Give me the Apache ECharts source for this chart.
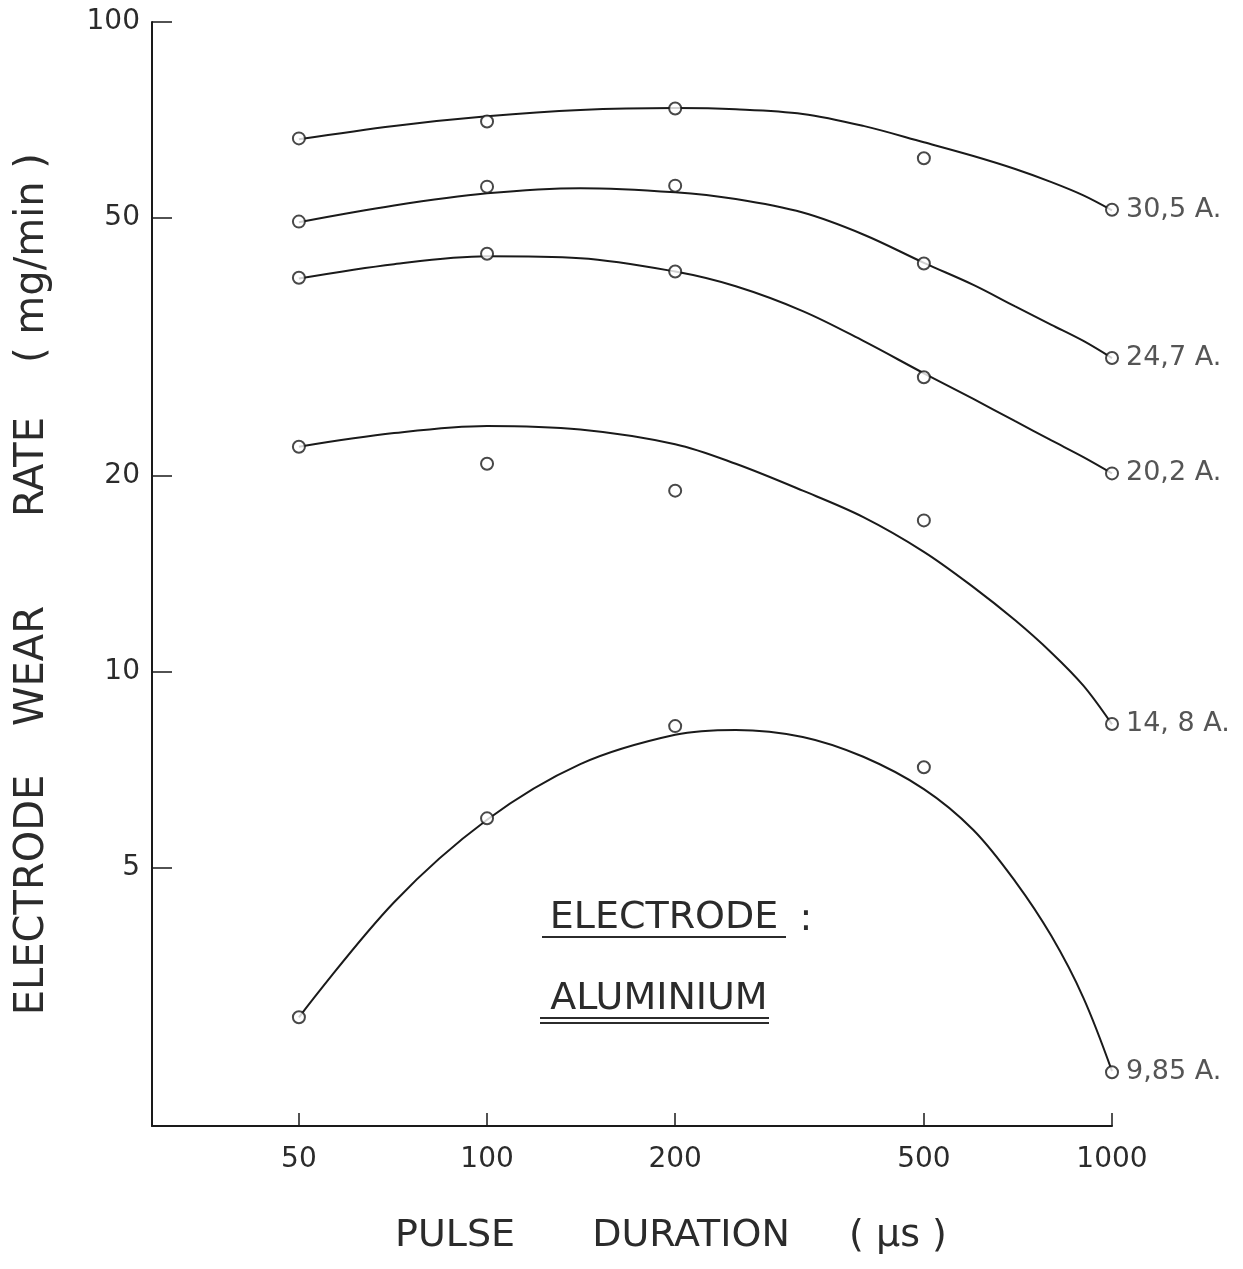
<!DOCTYPE html>
<html>
<head>
<meta charset="utf-8">
<script src="https://cdn.jsdelivr.net/npm/echarts@6/dist/echarts.min.js"></script>
<style>
html,body{margin:0;padding:0;background:#fff;}
#chart{width:1243px;height:1269px;}
</style>
</head>
<body>
<div id="chart"></div>
<script>
// ---- data ----
const pulseDuration = [50, 100, 200, 500, 1000];          // µs (measured points)
const currents = ['30,5 A.', '24,7 A.', '20,2 A.', '14, 8 A.', '9,85 A.'];
const wear305 = [66.2, 70.3, 73.6, 61.7, 51.4];
const wear247 = [49.3, 55.8, 56.0, 42.5, 30.4];
const wear202 = [40.4, 44.0, 41.3, 28.4, 20.2];
const wear148 = [22.2, 20.9, 19.0, 17.1, 8.31];
const wear985 = [2.94, 5.95, 8.25, 7.13, 2.42];

// hand-drawn fitted curves at these durations
const curveX   = [50, 71, 100, 141, 200, 250, 320, 400, 500, 600, 700, 800, 900, 1000];
const curve305 = [66.0, 69.2, 71.6, 73.2, 73.7, 73.4, 72.2, 69.2, 65.3, 62.2, 59.4, 56.7, 54.1, 51.3];
const curve247 = [49.2, 52.2, 54.5, 55.5, 54.7, 53.4, 50.9, 47.1, 42.6, 39.4, 36.5, 34.2, 32.3, 30.4];
const curve202 = [40.3, 42.4, 43.6, 43.3, 41.3, 39.2, 35.9, 32.3, 28.8, 26.3, 24.3, 22.7, 21.4, 20.2];
const curve148 = [22.2, 23.3, 23.9, 23.6, 22.4, 20.9, 19.0, 17.3, 15.3, 13.5, 12.0, 10.7, 9.52, 8.3];
const curve985 = [2.94, 4.42, 5.92, 7.21, 8.00, 8.14, 7.94, 7.40, 6.60, 5.71, 4.76, 3.92, 3.15, 2.43];

const xTicks = [50, 100, 200, 500, 1000];
const yTicks = [5, 10, 20, 50, 100];

// ---- chart ----
const INK = '#1a1a1a';
const TXT = '#2b2b2b';
const FONT = '"DejaVu Sans", sans-serif';

const pointSets = [wear305, wear247, wear202, wear148, wear985];
const curveSets = [curve305, curve247, curve202, curve148, curve985];

const series = [];
curveSets.forEach((c, k) => {
  series.push({
    type: 'line',
    name: currents[k] + ' curve',
    data: curveX.map((x, i) => [x, c[i]]),
    smooth: 0.35,
    showSymbol: false,
    symbol: 'none',
    lineStyle: { color: INK, width: 2 },
    z: 2,
    silent: true
  });
});
pointSets.forEach((p, k) => {
  series.push({
    type: 'scatter',
    name: currents[k],
    symbol: 'circle',
    symbolSize: 12,
    itemStyle: { color: '#fff', borderColor: INK, borderWidth: 2 },
    z: 3,
    data: pulseDuration.map((x, i) => {
      const item = { value: [x, p[i]] };
      if (i === pulseDuration.length - 1) {
        item.label = {
          show: true, position: 'right', distance: 7,
          formatter: currents[k], color: TXT, fontSize: 27, fontFamily: FONT
        };
      }
      return item;
    })
  });
});

function txt(text, x, y, size, rot) {
  return {
    type: 'text', x: x, y: y, rotation: rot || 0, silent: true,
    style: { text: text, fill: TXT, fontSize: size, fontFamily: FONT, align: 'center', verticalAlign: 'middle' }
  };
}
function ln(x1, y1, x2, y2) {
  return { type: 'line', silent: true, shape: { x1, y1, x2, y2 }, style: { stroke: TXT, lineWidth: 2 } };
}

const chart = echarts.init(document.getElementById('chart'), null, { renderer: 'canvas' });
chart.setOption({
  backgroundColor: '#fff',
  animation: false,
  grid: { left: 152, top: 22, right: 131, bottom: 143, containLabel: false, outerBoundsMode: 'none' },
  xAxis: {
    type: 'log', logBase: 10, min: 29.1, max: 1000,
    axisLine: { show: true, lineStyle: { color: INK, width: 2 } },
    axisTick: { show: true, inside: true, length: 13, customValues: xTicks, lineStyle: { color: INK, width: 1.5 } },
    minorTick: { show: false },
    axisLabel: { show: true, customValues: xTicks, margin: 20, color: TXT, fontSize: 28, fontFamily: FONT,
      formatter: v => String(Math.round(v)) },
    splitLine: { show: false }
  },
  yAxis: {
    type: 'log', logBase: 10, min: 2, max: 100,
    axisLine: { show: true, lineStyle: { color: INK, width: 2 } },
    axisTick: { show: true, inside: true, length: 20, customValues: yTicks, lineStyle: { color: INK, width: 1.5 } },
    minorTick: { show: false },
    axisLabel: { show: true, customValues: yTicks, margin: 12, color: TXT, fontSize: 28, fontFamily: FONT,
      formatter: v => String(Math.round(v)) },
    splitLine: { show: false }
  },
  graphic: [
    // y-axis title (word by word)
    txt('ELECTRODE', 33, 895, 40, Math.PI / 2),
    txt('WEAR', 33, 666, 40, Math.PI / 2),
    txt('RATE', 33, 467, 40, Math.PI / 2),
    txt('( mg/min )', 33, 258, 40, Math.PI / 2),
    // x-axis title
    txt('PULSE', 455, 1236, 38),
    txt('DURATION', 691, 1236, 38),
    txt('( µs )', 898, 1236, 38),
    // annotation
    txt('ELECTRODE', 664, 918, 38),
    txt(':', 806, 920, 38),
    ln(542, 937, 786, 937),
    txt('ALUMINIUM', 659, 999, 38),
    ln(540, 1018, 769, 1018),
    ln(540, 1023, 769, 1023)
  ],
  series: series
});
</script>
</body>
</html>
